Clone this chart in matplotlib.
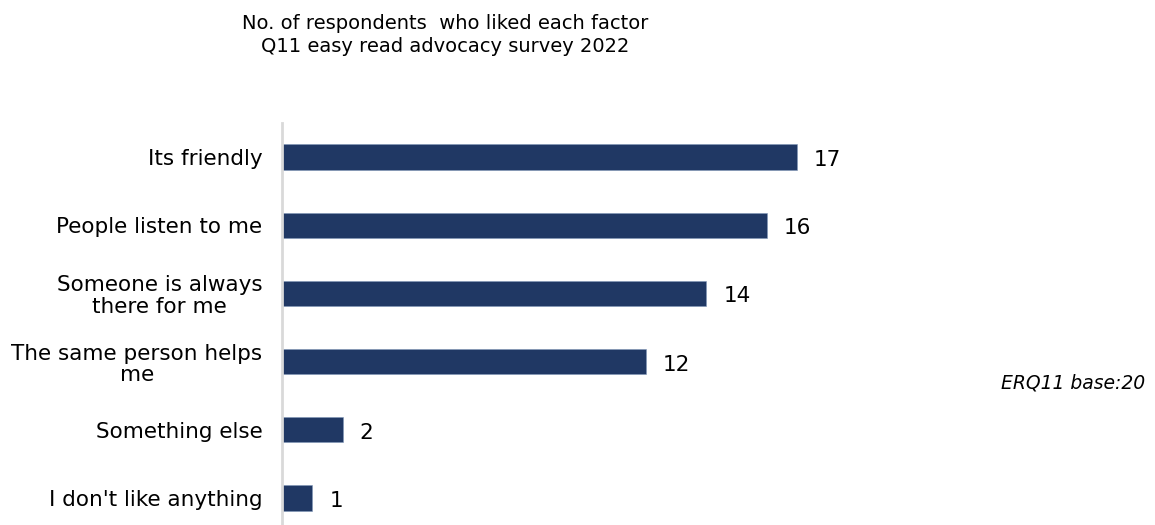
import matplotlib
matplotlib.use("Agg")
import matplotlib.pyplot as plt

categories = ["Its friendly", "People listen to me", "Someone is always\nthere for me",
              "The same person helps\nme", "Something else", "I don't like anything"]
values = [17, 16, 14, 12, 2, 1]
title = "No. of respondents  who liked each factor\nQ11 easy read advocacy survey 2022"
note = "ERQ11 base:20"

plt.rcParams['font.family'] = ['DejaVu Sans']

W, H = 1155, 525
fig = plt.figure(figsize=(W / 100, H / 100), dpi=100)
left, right = 282, 282 + 20 * 30.3
top, bottom = 123, 525
ax = fig.add_axes([left / W, 1 - bottom / H, (right - left) / W, (bottom - top) / H])

pos = list(range(len(categories)))
ax.barh(pos, values, height=0.37, color='#203864', edgecolor='#8096b8', linewidth=0.4)
ax.set_xlim(0, 20)
ax.set_ylim(5 + 27 / 68, -0.5)
ax.set_yticks(pos)
ax.set_yticklabels(categories, fontsize=15.5, ha='right', linespacing=1.1,
                   multialignment='center')
ax.tick_params(axis='y', length=0, pad=14)
ax.set_xticks([])
for s in ['top', 'right', 'bottom']:
    ax.spines[s].set_visible(False)
ax.spines['left'].set_color('#d9d9d9')
ax.spines['left'].set_linewidth(2)

for p, v in zip(pos, values):
    ax.annotate(str(v), (v, p), xytext=(17, -3), textcoords='offset pixels',
                va='center', ha='left', fontsize=15.5)

fig.text(445 / W, 1 - 35 / H, title, ha='center', va='center', fontsize=14,
         linespacing=1.3, fontweight='medium')
fig.text(1145 / W, 1 - 383 / H, note, ha='right', va='center', fontsize=13.5,
         style='italic')

fig.savefig("out.png", dpi=100)
